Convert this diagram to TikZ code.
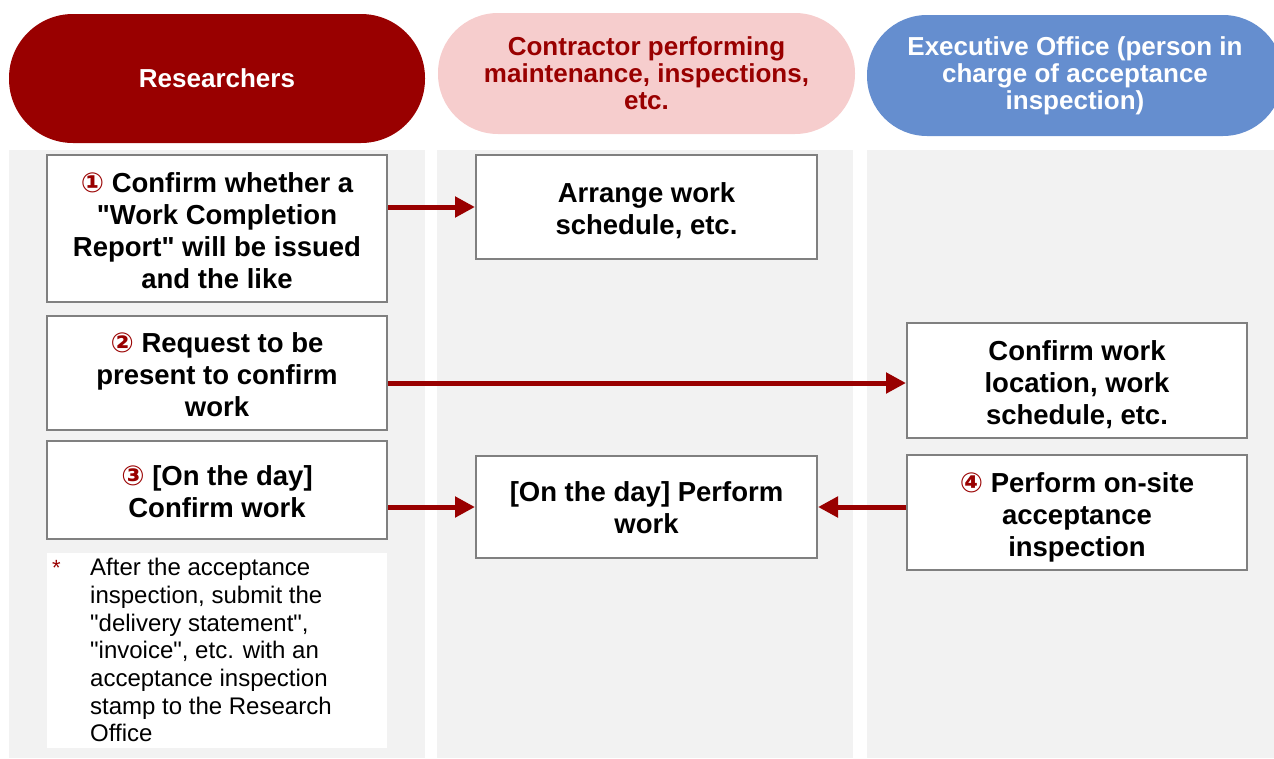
\documentclass[tikz,border=0pt]{standalone}
\usepackage{fontspec}
\setmainfont{Liberation Sans}[Ligatures=TeXOff]
\newfontfamily\dejavu{DejaVu Sans}
\usetikzlibrary{arrows.meta}
\definecolor{dred}{HTML}{990000}
\definecolor{pinkhd}{HTML}{F6CDCD}
\definecolor{bluehd}{HTML}{658ECF}
\definecolor{lanebg}{HTML}{F2F2F2}
\definecolor{boxgray}{HTML}{808080}
\newcommand{\cnum}[1]{{\dejavu\bfseries\color{dred}#1}}
\tikzset{
  lane/.style={fill=lanebg},
  pill/.style={rectangle, inner sep=0pt, align=center,
    font=\bfseries\fontsize{26}{27}\selectfont},
  stepbox/.style={draw=boxgray, line width=2pt, fill=white, align=center, inner sep=0pt,
    font=\bfseries\fontsize{27.5}{32}\selectfont},
  arr/.style={draw=dred, line width=5pt, -{Triangle[length=20pt,width=20pt]}},
}
\begin{document}
\begin{tikzpicture}[x=1pt,y=-1pt]
\useasboundingbox (0,0) rectangle (1274,758);
\begin{scope}
\clip (0,0) rectangle (1274,758);
% lanes
\fill[lane] (9,150) rectangle (425,758);
\fill[lane] (437,150) rectangle (853,758);
\fill[lane] (867,150) rectangle (1274,758);
% headers
\node[pill, rounded corners=64pt, fill=dred, text=white, minimum width=416pt, minimum height=129pt] (h1) at (217,78.5) {Researchers};
\node[pill, rounded corners=60pt, fill=pinkhd, text=dred, minimum width=417pt, minimum height=121pt] (h2) at (646.5,73.5) {Contractor performing\\maintenance, inspections,\\etc.};
\node[pill, rounded corners=60pt, fill=bluehd, text=white, minimum width=416pt, minimum height=121pt] (h3) at (1075,75.5) {Executive Office (person in\\charge of acceptance\\inspection)};
\end{scope}
% boxes
\node[stepbox, minimum width=340pt, text height=133pt, text depth=14pt] (b1) at (217,228.5)
  {\cnum{①} Confirm whether a\\"Work Completion\\Report" will be issued\\and the like};
\node[stepbox, minimum width=341pt, text height=79pt, text depth=25pt] (b2) at (646.5,207)
  {Arrange work\\schedule, etc.};
\node[stepbox, minimum width=340pt, text height=100pt, text depth=14pt] (b3) at (217,373)
  {\cnum{②} Request to be\\present to confirm\\work};
\node[stepbox, minimum width=340pt, text height=101pt, text depth=14pt] (b4) at (1077,380.5)
  {Confirm work\\location, work\\schedule, etc.};
\node[stepbox, minimum width=340pt, text height=76pt, text depth=22pt] (b5) at (217,490)
  {\cnum{③} [On the day]\\Confirm work};
\node[stepbox, minimum width=341pt, text height=77pt, text depth=25pt] (b6) at (646.5,507)
  {[On the day] Perform\\work};
\node[stepbox, minimum width=340pt, text height=101pt, text depth=14pt] (b7) at (1077,512.5)
  {\cnum{④} Perform on-site\\acceptance\\inspection};
% note
\node[fill=white, minimum width=340pt, minimum height=195pt, inner sep=0pt] (note) at (217,650.5) {};
\node[anchor=north west, inner sep=0pt, text=dred, font=\fontsize{22}{24}\selectfont] (star) at (52,560) {*};
\node[anchor=north west, inner sep=0pt, align=left, font=\fontsize{24}{27.7}\selectfont] (notetext) at (90,558)
  {After the acceptance\\inspection, submit the\\"delivery statement",\\"invoice", etc. with an\\acceptance inspection\\stamp to the Research\\Office};
% arrows
\draw[arr] (b1.east |- b2.west) -- (b2.west);
\draw[arr] ([yshift=-2.5pt]b3.east |- b4.west) -- ([yshift=-2.5pt]b4.west);
\draw[arr] (b5.east |- b6.west) -- (b6.west);
\draw[arr] (b7.west |- b6.east) -- (b6.east);
\end{tikzpicture}
\end{document}
